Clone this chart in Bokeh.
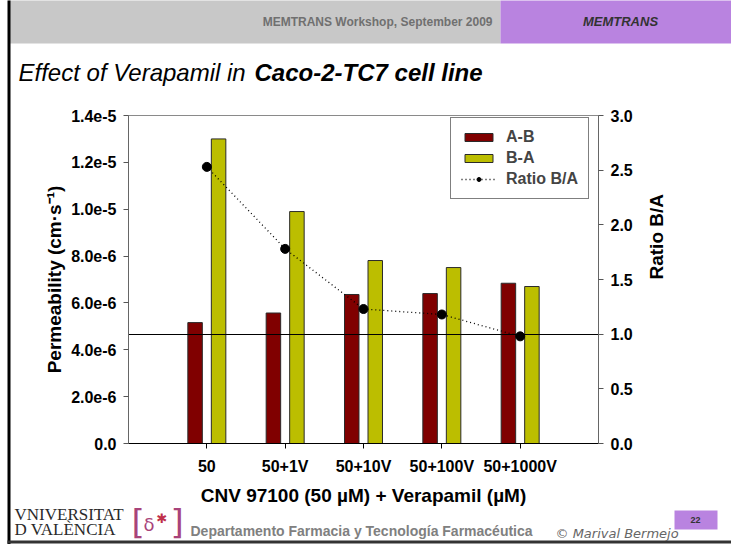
import math
from bokeh.plotting import figure
from bokeh.models import (Range1d, LinearAxis, FixedTicker, CustomJSTickFormatter,
                          NumeralTickFormatter, Legend, LegendItem, ColumnDataSource)
from bokeh.core.properties import value
from bokeh.transform import dodge
from bokeh.embed import file_html
from bokeh.resources import INLINE

# ---------------- data ----------------
categories = ["50", "50+1V", "50+10V", "50+100V", "50+1000V"]
perm_ab = [5.16e-6, 5.57e-6, 6.36e-6, 6.40e-6, 6.84e-6]
perm_ba = [1.30e-5, 9.90e-6, 7.81e-6, 7.51e-6, 6.70e-6]
ratio_ba = [2.53, 1.78, 1.23, 1.18, 0.98]
perm_ticks = [0, 2e-6, 4e-6, 6e-6, 8e-6, 1.0e-5, 1.2e-5, 1.4e-5]
ratio_ticks = [0, 0.5, 1.0, 1.5, 2.0, 2.5, 3.0]
ratio_reference = 1.0

positions = list(range(1, len(categories) + 1))   # category slots on the x axis

FONT = "Liberation Sans"
W, H = 731, 544
FL, FR, FT, FB = 128, 133, 115, 101

p = figure(width=W, height=H,
           x_range=Range1d(0, len(categories) + 1),
           y_range=Range1d(0, perm_ticks[-1]),
           output_backend="svg", toolbar_location=None,
           min_border_left=FL, min_border_right=FR, min_border_top=FT, min_border_bottom=FB)
p.extra_y_ranges = {"ratio": Range1d(0, ratio_ticks[-1]),
                    "py": Range1d(H - FB, FT)}          # page pixel rows (slide decoration)
p.extra_x_ranges = {"px": Range1d(FL, W - FR)}          # page pixel columns
p.xgrid.visible = False
p.ygrid.visible = False
p.outline_line_color = "#8a8a8a"
p.background_fill_color = "white"
p.border_fill_color = "white"

# left axis
ya = p.yaxis[0]
ya.ticker = FixedTicker(ticks=perm_ticks)
ya.formatter = CustomJSTickFormatter(code="return tick == 0 ? '0.0' : tick.toExponential(1);")
ya.axis_label = "Permeability (cm·s⁻¹)"
# bottom axis
xa = p.xaxis[0]
xa.ticker = FixedTicker(ticks=positions)
xa.major_label_overrides = {pos: cat for pos, cat in zip(positions, categories)}
xa.axis_label = "CNV 97100 (50 µM) + Verapamil (µM)"
# right axis
ra = LinearAxis(y_range_name="ratio", ticker=FixedTicker(ticks=ratio_ticks),
                formatter=NumeralTickFormatter(format="0.0"), axis_label="Ratio B/A")
if "axis_label_orientation" in ra.properties():
    ra.axis_label_orientation = math.pi / 2
p.add_layout(ra, "right")

for ax in (ya, xa, ra):
    ax.major_label_text_font = FONT
    ax.major_label_text_font_style = "bold"
    ax.major_label_text_font_size = "16px"
    ax.major_label_text_color = "black"
    ax.axis_label_text_font = FONT
    ax.axis_label_text_font_style = "bold"
    ax.axis_label_text_font_size = "19px"
    ax.axis_label_text_color = "black"
    ax.minor_tick_line_color = None
    ax.major_tick_in = 0
    ax.major_tick_out = 5
    ax.major_tick_line_color = "#555555"
    ax.axis_line_color = "#666666"
    ax.major_label_standoff = 7
ya.axis_label_standoff = 3
ra.axis_label_standoff = 21
xa.axis_line_color = "black"
xa.major_tick_line_color = "black"
xa.major_label_standoff = 9
xa.axis_label_standoff = 7

src = ColumnDataSource(dict(pos=positions, cat=categories, ab=perm_ab, ba=perm_ba, ratio=ratio_ba))

r_ab = p.vbar(x=dodge("pos", -0.15), top="ab", width=0.185, source=src,
              fill_color="#800000", line_color="#2a2a2a", line_width=1)
r_ba = p.vbar(x=dodge("pos", 0.15), top="ba", width=0.185, source=src,
              fill_color="#bcbe00", line_color="#2a2a2a", line_width=1)
p.hspan(y=[ratio_reference], y_range_name="ratio", line_color="black", line_width=1)
r_line = p.line(x="pos", y="ratio", source=src, y_range_name="ratio",
                line_color="black", line_width=1.3, line_dash="1 3")
r_pts = p.scatter(x="pos", y="ratio", source=src, y_range_name="ratio", size=9,
                  fill_color="black", line_color="black")

legend = Legend(items=[LegendItem(label="A-B", renderers=[r_ab]),
                       LegendItem(label="B-A", renderers=[r_ba]),
                       LegendItem(label="Ratio B/A", renderers=[r_line, r_pts])],
                location=(322, 244), label_text_font=FONT, label_text_font_style="bold",
                label_text_font_size="16px", glyph_width=35, glyph_height=10, label_height=17,
                spacing=3, padding=10, margin=0, label_standoff=10,
                border_line_color="black", border_line_width=1, background_fill_alpha=1)
p.add_layout(legend)


# ---------------- slide decoration (page-pixel ranges, drawn above the clip level) --------
def box(l, t, r, b, color):
    p.quad(left=[l], right=[r], top=[t], bottom=[b], x_range_name="px", y_range_name="py",
           fill_color=color, line_alpha=0, level="overlay")


def label(text, x, y, size, style="normal", color="black", align="left", font=FONT):
    p.text(x=[x], y=[y], text=[text], x_range_name="px", y_range_name="py",
           text_font=value(font), text_font_size=value(size), text_font_style=style,
           text_color=color, text_align=align, text_baseline="middle", level="overlay")


box(8, 0, 500, 43, "#c8c8c8")
box(500, 0, 731, 43, "#b983e0")
box(7, 0, 10, 544, "black")
box(7, 540, 731, 543, "#333333")
box(674, 510, 717, 529, "#b983e0")

label("MEMTRANS Workshop, September 2009", 492, 21, "12px", "bold", "#707070", "right")
label("MEMTRANS", 620, 21, "13px", "bold italic", "#333333", "center")
label("Effect of Verapamil in", 18, 72, "24px", "italic", "black")
label("Caco-2-TC7 cell line", 254, 72, "24px", "bold italic", "black")

label("VNIVERSITAT", 14, 514, "17px", "normal", "#2a2a2a", "left", "Liberation Serif")
label("D VALÈNCIA", 14, 529, "17px", "normal", "#2a2a2a", "left", "Liberation Serif")
label("[", 131, 521, "34px", "normal", "#a8437a", "left", "DejaVu Sans")
label("]", 170, 521, "34px", "normal", "#a8437a", "left", "DejaVu Sans")
label("δ", 143, 524, "18px", "normal", "#a8437a", "left", "DejaVu Sans")
label("✱", 156, 518, "13px", "bold", "#c0304a", "left", "DejaVu Sans")
label("Departamento Farmacia y Tecnología Farmacéutica", 190, 530, "14px", "bold", "#808080")
label("© Marival Bermejo", 555, 533, "13px", "italic", "#666666", "left", "DejaVu Sans")
label("22", 695, 519, "9px", "bold", "#333333", "center")

open("out.html", "w").write(file_html(p, INLINE))
